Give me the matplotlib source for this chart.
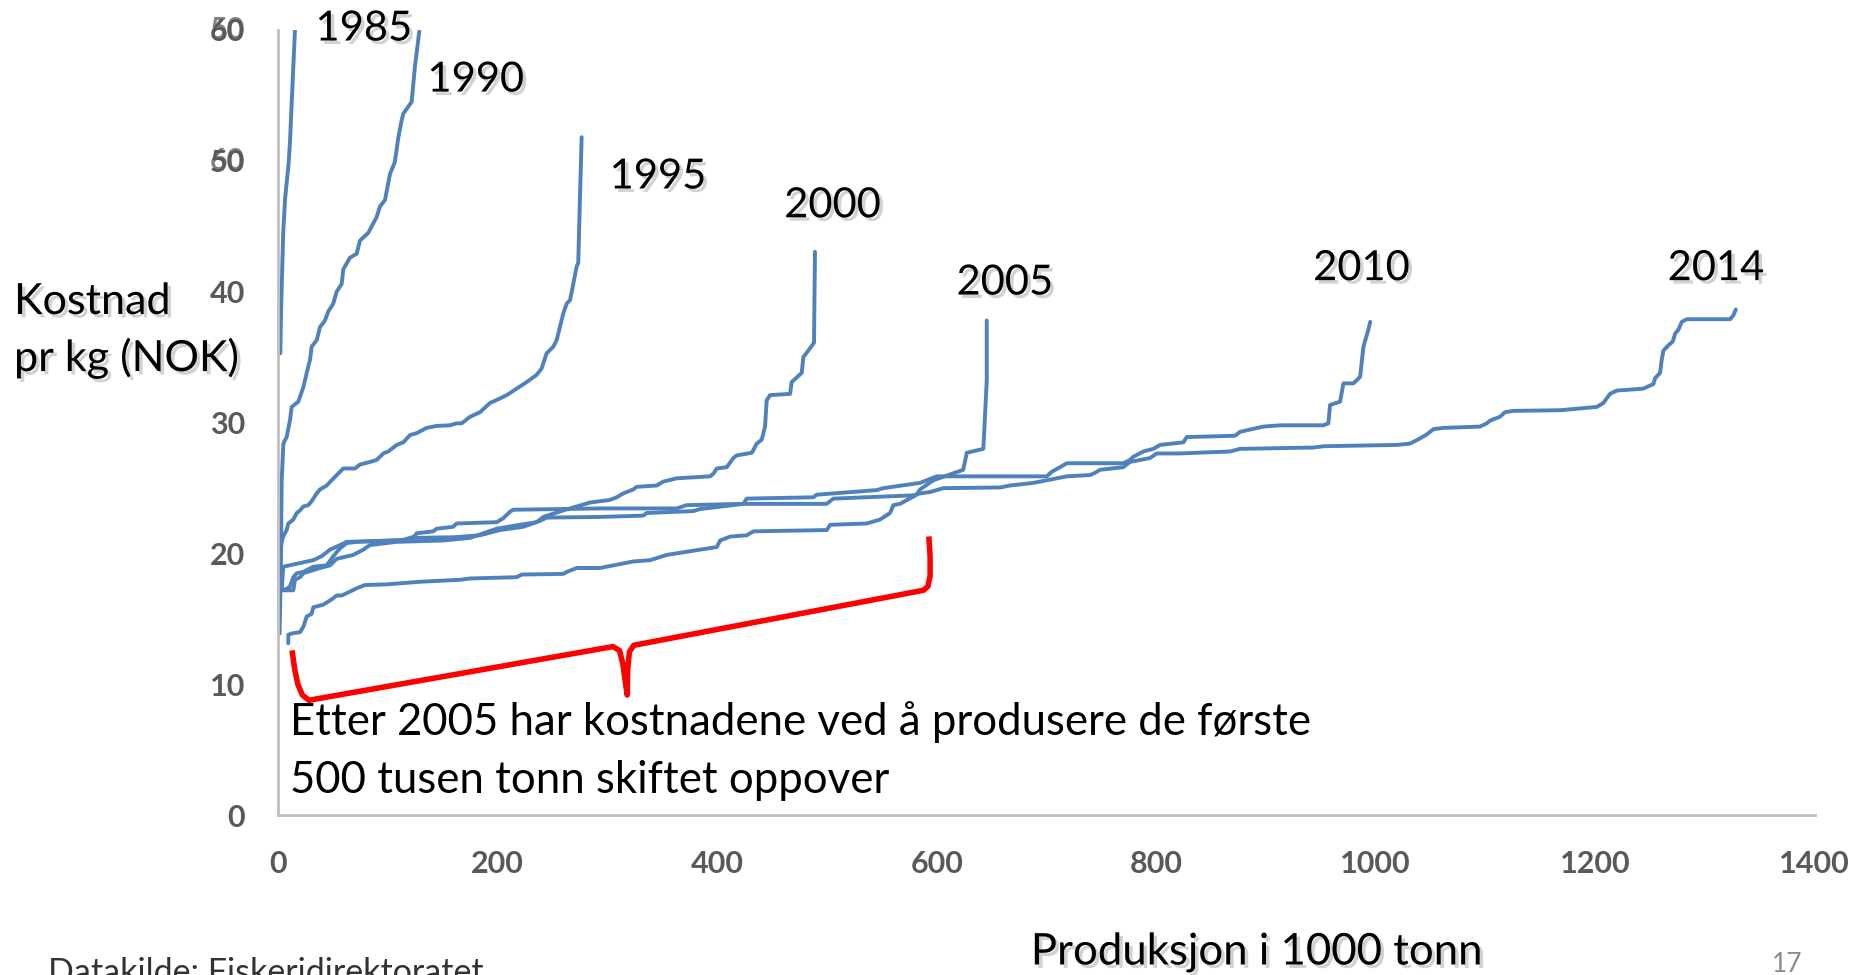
import matplotlib
matplotlib.use("Agg")
import matplotlib.pyplot as plt
import matplotlib.patheffects as pe

plt.rcParams['font.family'] = ['Lato', 'DejaVu Sans']

# cost curves: production (1000 t) vs cost per kg (NOK)
x1985 = [2.0, 2.5, 3.2, 4.6, 6.2, 7.7, 9.5, 10.8, 12.3, 15.3]
y1985 = [35.3, 38.0, 40.4, 44.5, 47.0, 48.3, 49.8, 51.5, 54.4, 60.0]

x1990 = [1.3, 2.0, 2.6, 3.2, 4.7, 7.7, 10.8, 12.3, 18.3, 22.9, 26.0, 29.0, 30.5, 35.1, 38.1, 42.6,
         45.7, 50.2, 53.3, 57.9, 59.3, 65.4, 71.5, 74.5, 82.1, 89.7, 92.7, 97.3, 101.9, 106.3,
         109.5, 112.5, 114.0, 121.6, 124.6, 128.6]
y1990 = [13.9, 17.0, 20.5, 25.6, 28.4, 28.9, 30.2, 31.2, 31.6, 32.7, 33.8, 34.8, 35.8, 36.3, 37.3, 37.8,
         38.5, 39.1, 40.0, 40.6, 41.7, 42.6, 42.9, 43.9, 44.5, 45.7, 46.5, 47.0, 49.0, 49.9,
         51.8, 53.1, 53.6, 54.5, 57.2, 59.9]

x1995 = [1.5, 2.5, 3.2, 4.6, 7.7, 9.2, 13.8, 16.9, 19.9, 22.9, 27.4, 30.5, 35.1, 38.1, 44.2, 48.7,
         56.3, 59.3, 70.0, 74.5, 83.6, 89.7, 95.8, 100.3, 108.0, 114.0, 120.1, 126.2, 135.3, 144.4,
         156.5, 162.6, 167.2, 174.8, 183.9, 193.0, 202.1, 208.2, 217.3, 226.4, 235.5, 240.1, 244.6,
         250.7, 253.7, 259.8, 262.9, 265.9, 268.9, 271.9, 273.4, 275.0, 276.5]
y1995 = [17.5, 20.3, 20.9, 21.3, 21.8, 22.3, 22.6, 23.1, 23.3, 23.6, 23.7, 24.0, 24.6, 24.9, 25.2, 25.6,
         26.25, 26.5, 26.5, 26.8, 27.0, 27.15, 27.65, 27.8, 28.3, 28.5, 29.05, 29.2, 29.6, 29.75,
         29.8, 29.95, 29.95, 30.45, 30.8, 31.5, 31.85, 32.1, 32.6, 33.1, 33.65, 34.15, 35.3,
         35.8, 36.3, 38.35, 39.1, 39.35, 40.6, 41.9, 42.2, 47.25, 51.8]

x2000 = [1.5, 13.8, 15.3, 19.9, 22.9, 38.1, 47.2, 53.3, 68.4, 77.5, 83.6, 107.9, 150.0, 174.8, 186.9,
         199.1, 220.3, 235.5, 241.6, 259.8, 284.1, 302.3, 308.4, 314.5, 323.6, 326.6, 344.9, 350.9,
         363.1, 393.5, 396.5, 399.6, 408.7, 414.8, 417.8, 431.5, 432.9, 436.0, 440.6, 443.6, 445.1,
         448.1, 466.4, 467.9, 477.0, 478.5, 488.2, 489.1]
y2000 = [17.2, 17.2, 18.0, 18.2, 18.5, 18.9, 19.1, 19.6, 19.9, 20.3, 20.65, 20.9, 21.0, 21.2, 21.55,
         21.9, 22.2, 22.4, 22.8, 23.3, 23.9, 24.1, 24.3, 24.6, 24.9, 25.1, 25.2, 25.5,
         25.75, 25.9, 26.1, 26.5, 26.6, 27.3, 27.5, 27.7, 27.9, 28.4, 28.7, 29.7, 31.7,
         32.1, 32.2, 33.1, 33.8, 35.0, 36.1, 43.05]

x2005 = [9.2, 9.2, 12.3, 19.9, 22.9, 26.0, 30.5, 32.0, 41.1, 48.7, 53.3, 57.9, 65.4, 71.5, 79.1, 98.9,
         129.2, 165.7, 174.8, 217.3, 221.9, 259.8, 262.9, 272.0, 293.2, 323.6, 339.0, 354.0, 384.3,
         399.6, 402.7, 411.8, 427.0, 433.0, 499.9, 502.9, 536.3, 548.4, 557.5, 560.5, 566.6, 581.8,
         584.8, 596.9, 624.2, 627.4, 642.5, 645.6, 645.6]
y2005 = [13.15, 13.8, 13.9, 14.0, 14.4, 15.2, 15.4, 15.9, 16.1, 16.5, 16.8, 16.8, 17.1, 17.35, 17.6, 17.65,
         17.85, 18.0, 18.1, 18.2, 18.4, 18.45, 18.6, 18.9, 18.9, 19.4, 19.5, 19.9, 20.3,
         20.5, 21.0, 21.3, 21.4, 21.7, 21.8, 22.2, 22.3, 22.6, 23.1, 23.7, 23.8, 24.5,
         24.9, 25.6, 26.4, 27.7, 28.0, 33.2, 37.8]

x2010 = [1.5, 7.7, 10.8, 13.8, 16.9, 22.9, 32.0, 44.2, 50.2, 56.3, 62.4, 71.5, 114.0, 124.0, 126.2,
         141.3, 144.4, 159.5, 162.6, 199.1, 205.1, 211.2, 214.2, 293.2, 363.1, 372.2, 423.8, 426.9,
         487.6, 490.7, 545.4, 551.4, 584.8, 600.0, 700.3, 704.8, 712.4, 718.5, 770.0, 776.1, 779.2,
         788.3, 797.4, 803.5, 824.8, 827.8, 871.8, 876.4, 897.6, 913.2, 952.3, 956.9, 958.4, 967.5,
         970.6, 979.7, 985.8, 988.8, 993.3, 995.0]
y2010 = [17.2, 17.3, 17.5, 18.2, 18.5, 18.6, 19.0, 19.1, 19.8, 20.4, 20.8, 20.9, 21.05, 21.3, 21.55,
         21.7, 21.9, 22.05, 22.3, 22.4, 22.7, 23.2, 23.35, 23.45, 23.45, 23.7, 23.8, 24.2,
         24.3, 24.5, 24.85, 25.0, 25.4, 25.9, 25.9, 26.25, 26.6, 26.9, 26.9, 27.15, 27.4,
         27.8, 28.0, 28.3, 28.5, 28.9, 29.0, 29.3, 29.7, 29.8, 29.8, 29.95, 31.35, 31.6,
         33.0, 33.0, 33.5, 35.8, 37.1, 37.7]

x2014 = [3.2, 4.6, 32.0, 39.6, 47.2, 56.3, 62.4, 114.0, 123.1, 160.0, 183.9, 202.1, 223.4, 238.5,
         244.6, 293.2, 332.7, 335.7, 378.3, 384.3, 423.8, 499.8, 505.8, 578.7, 584.8, 593.9, 606.0,
         657.7, 666.8, 688.0, 700.3, 718.5, 739.7, 745.0, 748.8, 770.0, 776.1, 794.4, 800.5, 821.7,
         867.3, 876.4, 943.2, 952.3, 1019.2, 1031.3, 1040.4, 1046.5, 1052.5, 1061.6, 1095.0, 1101.2,
         1104.1, 1113.2, 1117.8, 1125.4, 1168.0, 1201.4, 1207.4, 1213.5, 1219.6, 1243.9, 1253.0,
         1254.6, 1259.1, 1260.6, 1262.1, 1266.6, 1270.7, 1272.8, 1275.8, 1278.9, 1283.5, 1322.9,
         1325.9, 1328.1]
y2014 = [17.2, 19.0, 19.5, 19.8, 20.3, 20.65, 20.9, 21.0, 21.2, 21.25, 21.4, 21.8, 22.05, 22.5,
         22.75, 22.8, 22.9, 23.1, 23.25, 23.4, 23.8, 23.8, 24.2, 24.45, 24.6, 24.7, 25.0,
         25.05, 25.2, 25.4, 25.6, 25.9, 26.0, 26.2, 26.4, 26.6, 27.0, 27.3, 27.65, 27.65,
         27.8, 28.0, 28.1, 28.2, 28.3, 28.4, 28.8, 29.1, 29.5, 29.6, 29.7, 29.95,
         30.15, 30.45, 30.8, 30.9, 30.95, 31.2, 31.5, 32.2, 32.45, 32.6, 32.95,
         33.4, 33.8, 34.8, 35.5, 35.9, 36.2, 36.8, 37.1, 37.7, 37.9, 37.9,
         38.2, 38.65]

years = ['1985', '1990', '1995', '2000', '2005', '2010', '2014']
xs = [x1985, x1990, x1995, x2000, x2005, x2010, x2014]
ys = [y1985, y1990, y1995, y2000, y2005, y2010, y2014]
label_x = [78, 180, 346, 505, 662, 987, 1310]
label_y = [60.1, 56.2, 48.8, 46.6, 40.7, 41.8, 41.8]

# hand drawn brace under the first 500 000 t
brace_x = [13, 15, 18, 22, 28, 305, 311, 314, 316, 318, 318.5, 320, 324, 588, 592, 594, 594, 593]
brace_y = [12.4, 11.2, 10.0, 9.2, 8.8, 12.9, 12.6, 11.6, 10.4, 9.2, 11.2, 12.5, 13.0, 17.2, 17.5, 18.3, 19.8, 21.1]

xticks = [0, 200, 400, 600, 800, 1000, 1200, 1400]
yticks = [0, 10, 20, 30, 40, 50, 60]

blue = '#4F81BD'
grey = '#595959'
shadow = [pe.SimplePatchShadow(offset=(2.5, -2.5), shadow_rgbFace='#808080', alpha=0.35), pe.Normal()]

fig = plt.figure(figsize=(18.72, 9.75), dpi=100)
ax = fig.add_axes([0.1486, 0.1636, 0.8208, 0.8058])

for xv, yv in zip(xs, ys):
    ax.plot(xv, yv, color=blue, lw=2.8, solid_joinstyle='round', solid_capstyle='round')

for yr, lx, ly in zip(years, label_x, label_y):
    ax.text(lx, ly, yr, fontsize=30, ha='center', va='center', color='black',
            path_effects=shadow, clip_on=False)

ax.plot(brace_x, brace_y, color='red', lw=4, solid_joinstyle='round', clip_on=False)

ax.text(11, 7.1, 'Etter 2005 har kostnadene ved å produsere de første', fontsize=31.5,
        ha='left', va='center', color='black')
ax.text(11, 2.7, '500 tusen tonn skiftet oppover', fontsize=31.5,
        ha='left', va='center', color='black')

ax.set_xlim(0, 1400)
ax.set_ylim(0, 60)
ax.set_xticks(xticks)
ax.set_yticks(yticks)
ax.set_xticklabels([str(t) for t in xticks], fontsize=22, fontweight='bold', color=grey)
ax.set_yticklabels([str(t) for t in yticks], fontsize=22, fontweight='bold', color=grey)
ax.tick_params(axis='both', length=0)
ax.tick_params(axis='y', pad=24)
ax.tick_params(axis='x', pad=25)

# ghost labels from an overlaid chart at the top of the y axis
for gy, gt in [(60, '50'), (50, '60')]:
    ax.annotate(gt, xy=(0, gy), xycoords=('axes fraction', 'data'), xytext=(-24, 0),
                textcoords='offset points', fontsize=22, fontweight='bold', color=grey,
                alpha=0.75, ha='right', va='center', annotation_clip=False)

for side in ['top', 'right']:
    ax.spines[side].set_visible(False)
for side in ['left', 'bottom']:
    ax.spines[side].set_color('#BFBFBF')
    ax.spines[side].set_linewidth(2)

fig.text(14 / 1872, 1 - 302 / 975, 'Kostnad', fontsize=31, ha='left', va='center',
         path_effects=shadow)
fig.text(14 / 1872, 1 - 358 / 975, 'pr kg (NOK)', fontsize=31, ha='left', va='center',
         path_effects=shadow)
fig.text(1257 / 1872, 1 - 952 / 975, 'Produksjon i 1000 tonn', fontsize=31.5, ha='center',
         va='center', path_effects=shadow)
fig.text(48 / 1872, 1 - 957 / 975, 'Datakilde: Fiskeridirektoratet', fontsize=24.5, ha='left',
         va='top', color='#333333')
fig.text(1787 / 1872, 1 - 965 / 975, '17', fontsize=19, ha='center', va='center', color='#8C8C8C')

fig.savefig('out.png', dpi=100)
